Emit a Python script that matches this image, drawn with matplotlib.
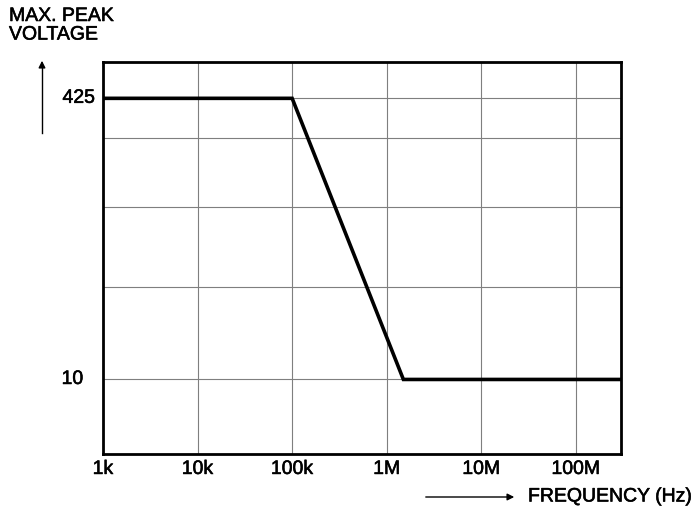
import matplotlib.pyplot as plt
import matplotlib.patheffects as pe
from matplotlib.ticker import NullFormatter, NullLocator

plt.rcParams["font.family"] = ["Liberation Sans", "DejaVu Sans"]
plt.rcParams["font.size"] = 14

# curve: max. peak voltage vs frequency
freq = [1e3, 1e5, 1.5e6, 3e8]
voltage = [425, 425, 10, 10]

x_ticks = [1e3, 1e4, 1e5, 1e6, 1e7, 1e8]
x_labels = ["1k", "10k", "100k", "1M", "10M", "100M"]
y_grid = [10, 34.5, 100, 251, 425]

ink = [pe.withStroke(linewidth=0.4, foreground="black")]

fig = plt.figure(figsize=(6.93, 5.30), dpi=100)
ax = fig.add_axes([103 / 693, 1 - 454 / 530, 518 / 693, 392 / 530])

ax.plot(freq, voltage, color="black", lw=2.6, solid_joinstyle="miter", zorder=3)

ax.set_xscale("log")
ax.set_yscale("log")
ax.set_xlim(1e3, 3e8)
ax.set_ylim(3.7, 690)

ax.set_xticks(x_ticks)
ax.set_xticklabels(x_labels)
ax.xaxis.set_minor_locator(NullLocator())
ax.set_yticks(y_grid)
ax.yaxis.set_major_formatter(NullFormatter())
ax.yaxis.set_minor_locator(NullLocator())
ax.yaxis.set_minor_formatter(NullFormatter())
ax.tick_params(length=0, pad=5)
for lbl in ax.get_xticklabels():
    lbl.set_path_effects(ink)
ax.grid(True, color="#7f7f7f", lw=0.8)

for s in ax.spines.values():
    s.set_linewidth(2)

# y value labels
tr = ax.get_yaxis_transform()
ax.text(-0.015, 425, "425", transform=tr, ha="right", va="center", path_effects=ink)
ax.text(-0.038, 10, "10", transform=tr, ha="right", va="center", path_effects=ink)

# axis titles and arrows
fig.text(9 / 693, 1 - 8 / 530, "MAX. PEAK\nVOLTAGE", ha="left", va="top",
         linespacing=1.12, path_effects=ink)
fig.add_artist(plt.Line2D([42 / 693, 42 / 693], [1 - 133 / 530, 1 - 65 / 530],
                          color="black", lw=1))
ax.annotate("", xy=(42 / 693, 1 - 58 / 530), xytext=(42 / 693, 1 - 70 / 530),
            xycoords="figure fraction",
            arrowprops=dict(arrowstyle="-|>", color="black", lw=1,
                            mutation_scale=10))
ax.annotate("", xy=(517 / 693, 1 - 497 / 530), xytext=(423 / 693, 1 - 497 / 530),
            xycoords="figure fraction",
            arrowprops=dict(arrowstyle="-|>", color="black", lw=1,
                            mutation_scale=10))
fig.text(528 / 693, 1 - 497 / 530, "FREQUENCY (Hz)", ha="left", va="center",
         path_effects=ink)

plt.savefig("out.png", dpi=100)
